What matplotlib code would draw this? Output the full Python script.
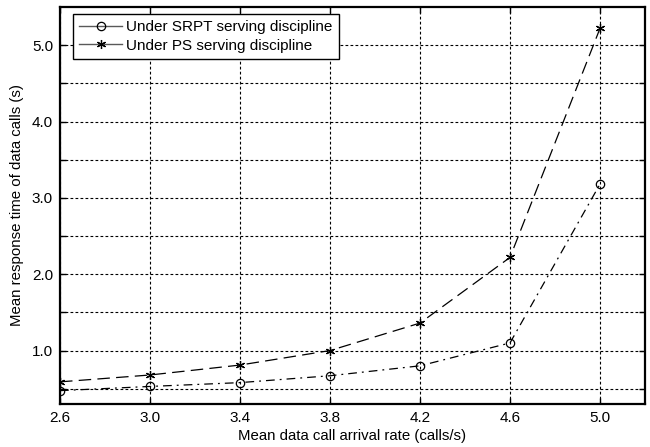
import matplotlib
matplotlib.use("Agg")
import matplotlib.pyplot as plt
from matplotlib.lines import Line2D
import numpy as np

plt.rcParams['font.family'] = ['Liberation Sans', 'DejaVu Sans']

arrival_rate = [2.6, 3.0, 3.4, 3.8, 4.2, 4.6, 5.0]
srpt_resp = [0.475, 0.53, 0.58, 0.67, 0.80, 1.10, 3.18]
ps_resp = [0.59, 0.68, 0.81, 1.00, 1.36, 2.22, 5.22]
x_ticks = [2.6, 3.0, 3.4, 3.8, 4.2, 4.6, 5.0]
y_ticks = [0.5, 1.0, 1.5, 2.0, 2.5, 3.0, 3.5, 4.0, 4.5, 5.0]
y_labels = ['', '1.0', '', '2.0', '', '3.0', '', '4.0', '', '5.0']
series_names = ['Under SRPT serving discipline', 'Under PS serving discipline']

fig = plt.figure(figsize=(6.5, 4.47), dpi=100)
ax = fig.add_axes([60/650, 1-404/447, (645-60)/650, (404-7)/447])

ast = (6, 2, 0)
ax.plot(arrival_rate, srpt_resp, color='black', lw=0.9, linestyle=(0, (7, 4, 1.5, 4)),
        marker='o', markersize=6, markerfacecolor='none', markeredgecolor='black',
        markeredgewidth=0.9)
ax.plot(arrival_rate, ps_resp, color='black', lw=0.9, linestyle=(0, (10, 5)),
        marker=ast, markersize=6.5, markeredgecolor='black', markeredgewidth=0.9)

ax.set_xlim(2.6, 5.2)
ax.set_ylim(0.3, 5.5)
ax.set_xticks(x_ticks)
ax.set_xticklabels([f'{v:.1f}' for v in x_ticks], fontsize=11)
ax.set_yticks(y_ticks)
ax.set_yticklabels(y_labels, fontsize=11)
ax.tick_params(direction='in', length=4, width=1, top=True, right=True, pad=5)
ax.grid(True, color='black', linestyle=(0, (2.5, 2)), linewidth=0.8)
for s in ax.spines.values():
    s.set_linewidth(1.6)

ax.set_xlabel('Mean data call arrival rate (calls/s)', fontsize=10.8, labelpad=3)
ax.set_ylabel('Mean response time of data calls (s)', fontsize=10.8, labelpad=6)

handles = [
    Line2D([], [], color='0.35', lw=1.0, marker='o', markersize=6, markerfacecolor='none',
           markeredgecolor='black', markeredgewidth=0.9),
    Line2D([], [], color='0.35', lw=1.0, marker=ast, markersize=6.5,
           markeredgecolor='black', markeredgewidth=0.9),
]
leg = ax.legend(handles, series_names, loc='upper left', bbox_to_anchor=(13/585, 1-7/397),
                fontsize=11, frameon=True, fancybox=False, edgecolor='black', framealpha=1,
                handlelength=2.8, handletextpad=0.3, borderpad=0.4, labelspacing=0.3,
                borderaxespad=0)
leg.get_frame().set_linewidth(1.0)

fig.savefig('out.png', dpi=100)
